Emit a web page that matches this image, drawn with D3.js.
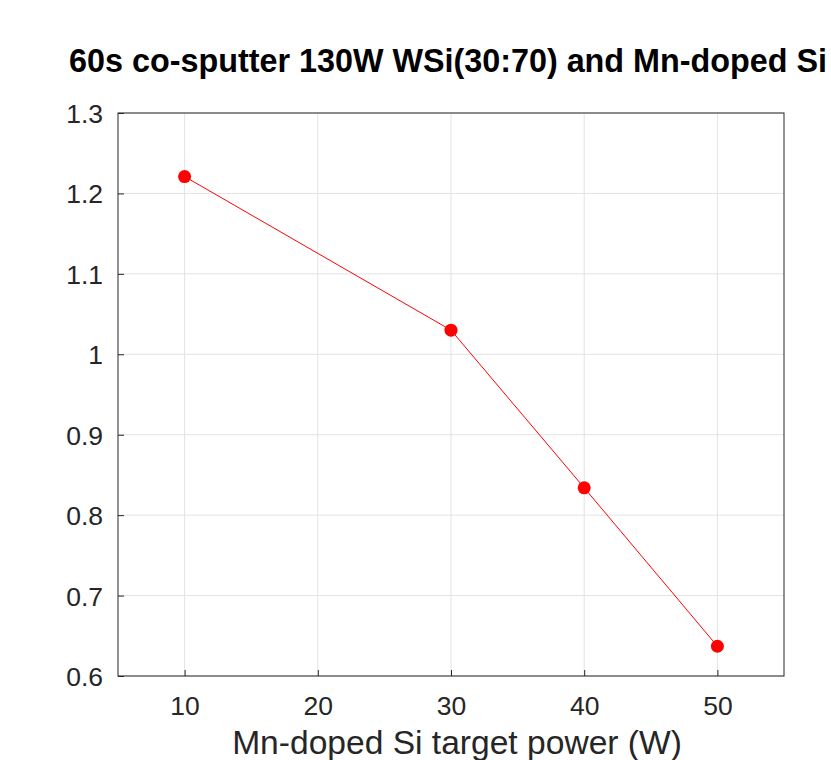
<!DOCTYPE html>
<html><head><meta charset="utf-8">
<script src="https://cdn.jsdelivr.net/npm/d3@7"></script>
<style>body{margin:0;background:#fff;} text{font-family:"Liberation Sans",Arial,Helvetica,sans-serif;}</style>
</head><body>
<svg id="c" width="831" height="760"></svg>
<script>
const powers = [10, 30, 40, 50];
const values = [1.221, 1.030, 0.834, 0.637];
const xTicks = [10, 20, 30, 40, 50];
const yTicks = [0.6, 0.7, 0.8, 0.9, 1.0, 1.1, 1.2, 1.3];
const titleText = "60s co-sputter 130W WSi(30:70) and Mn-doped Si";
const xLabel = "Mn-doped Si target power (W)";

const svg = d3.select("#c");
const L = 118, R = 784, T = 113, B = 676;
const x = d3.scaleLinear().domain([5, 55]).range([L, R]);
const y = d3.scaleLinear().domain([0.6, 1.3]).range([B, T]);

svg.append("rect").attr("width",831).attr("height",760).attr("fill","#fff");

// grid
const g = svg.append("g");
g.selectAll(".gx").data(xTicks).enter().append("line")
  .attr("x1",d=>x(d)).attr("x2",d=>x(d)).attr("y1",T).attr("y2",B)
  .attr("stroke","#e3e3e3").attr("stroke-width",1);
g.selectAll(".gy").data(yTicks).enter().append("line")
  .attr("y1",d=>y(d)).attr("y2",d=>y(d)).attr("x1",L).attr("x2",R)
  .attr("stroke","#e3e3e3").attr("stroke-width",1);

// box
svg.append("rect").attr("x",L).attr("y",T).attr("width",R-L).attr("height",B-T)
  .attr("fill","none").attr("stroke","#262626").attr("stroke-width",1);

// axes with inward ticks
const xAxis = d3.axisBottom(x).tickValues(xTicks).tickSizeInner(-6).tickSizeOuter(0).tickPadding(20).tickFormat(d3.format("d"));
const xa = svg.append("g").attr("transform",`translate(0,${B})`).call(xAxis);
const yAxis = d3.axisLeft(y).tickValues(yTicks).tickSizeInner(-6).tickSizeOuter(0).tickPadding(15).tickFormat(d=>d3.format("")(+d.toFixed(1)));
const ya = svg.append("g").attr("transform",`translate(${L},0)`).call(yAxis);
[xa, ya].forEach(a=>{
  a.select(".domain").remove();
  a.selectAll("line").attr("stroke","#262626");
  a.selectAll("text").attr("fill","#262626").style("font-size","26.5px")
   .style("font-family","'Liberation Sans',Arial,sans-serif");
});
ya.selectAll("text").attr("dy","0.36em");

// line and markers
const line = d3.line().x((d,i)=>x(powers[i])).y(d=>y(d));
svg.append("path").datum(values).attr("d",line).attr("fill","none")
  .attr("stroke","#ff0000").attr("stroke-width",1);
svg.selectAll(".pt").data(values).enter().append("circle")
  .attr("cx",(d,i)=>x(powers[i])).attr("cy",d=>y(d)).attr("r",6.5).attr("fill","#ff0000");

// labels
svg.append("text").attr("x",457).attr("y",754).attr("text-anchor","middle")
  .attr("fill","#262626").style("font-size","33.6px").text(xLabel);

const t = svg.append("text").attr("x",69).attr("y",72).attr("text-anchor","start")
  .attr("fill","#000").style("font-weight","bold").style("font-size","24px").text(titleText);
const w = t.node().getComputedTextLength();
t.style("font-size", (24*758/w).toFixed(2)+"px");
</script>
</body></html>
